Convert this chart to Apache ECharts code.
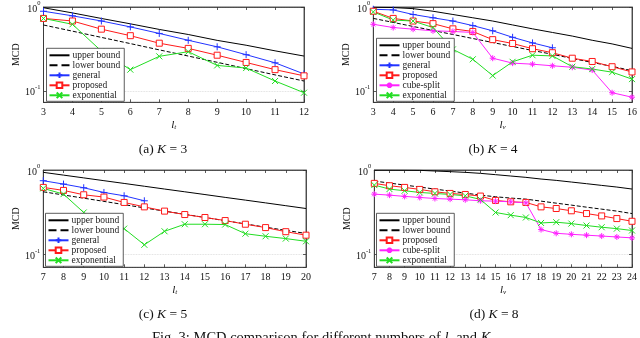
<!DOCTYPE html>
<html>
<head>
<meta charset="utf-8"/>
<title>MCD comparison</title>
<script src="https://cdn.jsdelivr.net/npm/echarts@6/dist/echarts.min.js"></script>
<style>
    html, body { margin: 0; padding: 0; background: #fff; }
    #main { width: 640px; height: 338px; }
</style>
</head>
<body>
<div id="main"></div>
<script>
// ---- data ----
// (a) K = 3
var xA = [3, 4, 5, 6, 7, 8, 9, 10, 11, 12];
var upperA = [0.98, 0.85, 0.73, 0.63, 0.54, 0.47, 0.40, 0.35, 0.30, 0.26];
var lowerA = [0.61, 0.515, 0.434, 0.366, 0.308, 0.26, 0.219, 0.184, 0.155, 0.131];
var generalA = [0.89, 0.785, 0.681, 0.579, 0.484, 0.401, 0.335, 0.27, 0.216, 0.159];
var proposedA = [0.731, 0.681, 0.544, 0.455, 0.37, 0.321, 0.266, 0.218, 0.179, 0.151];
var expA = [0.731, 0.622, 0.298, 0.179, 0.258, 0.293, 0.201, 0.187, 0.131, 0.095];

// (b) K = 4
var xB = [3, 4, 5, 6, 7, 8, 9, 10, 11, 12, 13, 14, 15, 16];
var upperB = [0.995, 0.985, 0.956, 0.89, 0.814, 0.744, 0.68, 0.611, 0.549, 0.497, 0.45, 0.401, 0.363, 0.321];
var lowerB = [0.731, 0.655, 0.586, 0.525, 0.47, 0.421, 0.377, 0.338, 0.303, 0.273, 0.243, 0.218, 0.196, 0.174];
var generalB = [0.94, 0.923, 0.814, 0.744, 0.68, 0.6, 0.52, 0.435, 0.373, 0.326];
var proposedB = [0.89, 0.731, 0.68, 0.633, 0.549, 0.511, 0.408, 0.367, 0.318, 0.285, 0.245, 0.224, 0.194, 0.168];
var cubeB = [0.622, 0.569, 0.544, 0.52, 0.511, 0.497, 0.245, 0.214, 0.208, 0.199, 0.191, 0.177, 0.095, 0.084];
var expB = [0.874, 0.699, 0.68, 0.569, 0.312, 0.238, 0.152, 0.222, 0.266, 0.261, 0.194, 0.182, 0.167, 0.138];

// (c) K = 5
var xC = [7, 8, 9, 10, 11, 12, 13, 14, 15, 16, 17, 18, 19, 20];
var upperC = [0.938, 0.87, 0.807, 0.748, 0.694, 0.643, 0.596, 0.553, 0.513, 0.475, 0.441, 0.409, 0.379, 0.351];
var lowerC = [0.553, 0.507, 0.465, 0.426, 0.39, 0.357, 0.327, 0.3, 0.275, 0.252, 0.231, 0.211, 0.194, 0.178];
var generalC = [0.747, 0.682, 0.617, 0.543, 0.496, 0.433];
var proposedC = [0.623, 0.574, 0.51, 0.479, 0.414, 0.367, 0.327, 0.298, 0.275, 0.253, 0.229, 0.209, 0.187, 0.17];
var expC = [0.607, 0.519, 0.315, 0.223, 0.203, 0.131, 0.189, 0.229, 0.229, 0.227, 0.177, 0.165, 0.155, 0.144];

// (d) K = 8
var xD = [7, 8, 9, 10, 11, 12, 13, 14, 15, 16, 17, 18, 19, 20, 21, 22, 23, 24];
var upperD = [0.998, 0.997, 0.995, 0.991, 0.973, 0.956, 0.938, 0.913, 0.881, 0.849, 0.819, 0.782, 0.754, 0.721, 0.689, 0.658, 0.629, 0.596];
var lowerD = [0.741, 0.701, 0.664, 0.629, 0.595, 0.564, 0.534, 0.505, 0.483, 0.466, 0.453, 0.429, 0.406, 0.385, 0.364, 0.345, 0.327, 0.306];
var proposedD = [0.695, 0.652, 0.623, 0.59, 0.553, 0.529, 0.514, 0.492, 0.437, 0.421, 0.414, 0.367, 0.351, 0.33, 0.306, 0.287, 0.267, 0.248];
var cubeD = [0.519, 0.505, 0.488, 0.474, 0.461, 0.453, 0.445, 0.433, 0.429, 0.421, 0.41, 0.198, 0.179, 0.174, 0.17, 0.166, 0.162, 0.158];
var expD = [0.664, 0.595, 0.569, 0.543, 0.529, 0.514, 0.496, 0.449, 0.315, 0.293, 0.275, 0.237, 0.242, 0.233, 0.221, 0.211, 0.203, 0.193];

var captions = ['(a) {i|K} = 3', '(b) {i|K} = 4', '(c) {i|K} = 5', '(d) {i|K} = 8'];
var xNames = ['{i|l}{sub|t}', '{i|l}{sub|v}', '{i|l}{sub|t}', '{i|l}{sub|v}'];

// ---- styling ----
var SERIF = '"Liberation Serif", "DejaVu Serif", serif';
var AX = '#333';

var look = {
    'upper bound': { color: '#000000', type: 'solid', symbol: 'circle', size: 0, hide: true },
    'lower bound': { color: '#000000', type: 'dashed', symbol: 'circle', size: 0, hide: true },
    'general': { color: '#2233ff', type: 'solid', symbol: 'path://M0,5L10,5M5,0L5,10', size: 7 },
    'proposed': { color: '#ff1a1a', type: 'solid', symbol: 'path://M0,0L10,0L10,10L0,10Z', size: 6, fill: '#fff' },
    'cube-split': { color: '#ff22ff', type: 'solid', symbol: 'path://M5,0L5,10M0,5L10,5M1.5,1.5L8.5,8.5M1.5,8.5L8.5,1.5', size: 6 },
    'exponential': { color: '#22dd22', type: 'solid', symbol: 'path://M0,0L10,10M0,10L10,0', size: 6 }
};

function pairs(xs, ys) {
    return ys.map(function (v, i) { return [xs[i], v]; });
}

var panels = [
    { left: 43.5, top: 5, width: 260.5, height: 97.3, x: xA, ymin: 0.073, lg: [46.5, 48.3],
      lines: [['upper bound', upperA], ['lower bound', lowerA], ['general', generalA], ['proposed', proposedA], ['exponential', expA]] },
    { left: 373.3, top: 5, width: 262, height: 97.3, x: xB, ymin: 0.073, lg: [376.5, 38.3],
      lines: [['upper bound', upperB], ['lower bound', lowerB], ['general', generalB], ['proposed', proposedB], ['cube-split', cubeB], ['exponential', expB]] },
    { left: 43.3, top: 170, width: 262.7, height: 97.3, x: xC, ymin: 0.071, lg: [45.5, 213.3],
      lines: [['upper bound', upperC], ['lower bound', lowerC], ['general', generalC], ['proposed', proposedC], ['exponential', expC]] },
    { left: 374.3, top: 170, width: 261, height: 97.3, x: xD, ymin: 0.071, lg: [376.5, 213.3],
      lines: [['upper bound', upperD], ['lower bound', lowerD], ['proposed', proposedD], ['cube-split', cubeD], ['exponential', expD]] }
];
var capPos = [[163, 149], [493, 149], [163, 314], [494, 314]];

function powLabel(v) {
    var e = Math.log(v) / Math.LN10;
    var r = Math.round(e);
    if (Math.abs(e - r) > 1e-6) return '';
    return '{b|10}{s|' + r + '}';
}

var grids = [], xAxes = [], yAxes = [], series = [], legends = [], graphics = [];

panels.forEach(function (p, k) {
    grids.push({ left: p.left, top: p.top, width: p.width, height: p.height, show: true,
        borderColor: AX, borderWidth: 0.8, backgroundColor: '#fff', containLabel: false });

    var xmin = p.x[0], xmax = p.x[p.x.length - 1];
    xAxes.push({
        gridIndex: k, type: 'value', position: 'bottom', min: xmin, max: xmax, interval: 1,
        axisLine: { show: true, lineStyle: { color: AX, width: 0.8 } },
        axisTick: { show: true, inside: true, length: 3, lineStyle: { color: AX, width: 0.8 } },
        axisLabel: { color: '#111', fontFamily: SERIF, fontSize: 10, margin: 5 },
        splitLine: { show: false },
        name: xNames[k], nameLocation: 'middle', nameGap: 16,
        nameTextStyle: { color: '#111', fontFamily: SERIF, fontSize: 11,
            rich: { i: { fontFamily: SERIF, fontStyle: 'italic', fontSize: 11, lineHeight: 11, verticalAlign: 'top', color: '#111' },
                    sub: { fontFamily: SERIF, fontStyle: 'italic', fontSize: 7, lineHeight: 7, padding: [5, 0, 0, 0], verticalAlign: 'bottom', color: '#111' } } }
    });
    xAxes.push({
        gridIndex: k, type: 'value', position: 'top', min: xmin, max: xmax, interval: 1,
        axisLine: { show: true, lineStyle: { color: AX, width: 0.8 } },
        axisTick: { show: true, inside: true, length: 3, lineStyle: { color: AX, width: 0.8 } },
        axisLabel: { show: false }, splitLine: { show: false }
    });
    yAxes.push({
        gridIndex: k, type: 'log', logBase: 10, position: 'left', min: p.ymin, max: 1,
        axisLine: { show: true, lineStyle: { color: AX, width: 0.8 } },
        axisTick: { show: true, inside: true, length: 3, lineStyle: { color: AX, width: 0.8 } },
        axisLabel: { formatter: powLabel, margin: 3, color: '#111',
            rich: { b: { fontFamily: SERIF, fontSize: 10, lineHeight: 14, verticalAlign: 'bottom', color: '#111' },
                    s: { fontFamily: SERIF, fontSize: 6.5, lineHeight: 6, verticalAlign: 'top', color: '#111' } } },
        splitLine: { show: true, lineStyle: { color: '#d6d6d6', type: 'dotted', width: 0.8 } },
        name: 'MCD', nameLocation: 'middle', nameGap: 21,
        nameTextStyle: { color: '#111', fontFamily: SERIF, fontSize: 10 }
    });
    yAxes.push({
        gridIndex: k, type: 'log', logBase: 10, position: 'right', min: p.ymin, max: 1,
        axisLine: { show: true, lineStyle: { color: AX, width: 0.8 } },
        axisTick: { show: true, inside: true, length: 3, lineStyle: { color: AX, width: 0.8 } },
        axisLabel: { show: false }, splitLine: { show: false }
    });

    var names = [];
    p.lines.forEach(function (ln) {
        var st = look[ln[0]];
        names.push(ln[0]);
        series.push({
            type: 'line', name: ln[0], xAxisIndex: 2 * k, yAxisIndex: 2 * k,
            data: pairs(p.x, ln[1]),
            symbol: st.symbol, symbolSize: st.size, showSymbol: !st.hide, showAllSymbol: true,
            lineStyle: { color: st.color, width: 1, type: st.type },
            itemStyle: { color: st.fill || st.color, borderColor: st.color, borderWidth: 1, opacity: st.hide ? 0 : 1 },
            emphasis: { disabled: true }, animation: false, z: 3
        });
    });

    legends.push({
        data: names, orient: 'vertical', left: p.lg[0], top: p.lg[1],
        backgroundColor: '#fff', borderColor: AX, borderWidth: 0.8, borderRadius: 0,
        padding: [2, 4, 1, 2], itemGap: 0, itemWidth: 20, itemHeight: 7,
        selectedMode: false, z: 10,
        textStyle: { fontFamily: SERIF, fontSize: 9.5, color: '#222', padding: [0, 0, 0, -2] }
    });

    graphics.push({
        type: 'text', x: capPos[k][0], y: capPos[k][1],
        style: { text: captions[k], fontFamily: SERIF, fontSize: 13.5, fill: '#111',
            align: 'center', verticalAlign: 'middle',
            rich: { i: { fontFamily: SERIF, fontStyle: 'italic', fontSize: 13.5, fill: '#111' } } }
    });
});

graphics.push({
    type: 'text', x: 325, y: 330,
    style: { text: 'Fig. 3: MCD comparison for different numbers of {i|l}{sub|v} and {i|K}{sub|v}.',
        fontFamily: SERIF, fontSize: 14.5, fill: '#111', align: 'center', verticalAlign: 'top',
        rich: { i: { fontFamily: SERIF, fontStyle: 'italic', fontSize: 14.5, fill: '#111' },
                sub: { fontFamily: SERIF, fontStyle: 'italic', fontSize: 9, fill: '#111', padding: [7, 0, 0, 0] } } }
});

var chart = echarts.init(document.getElementById('main'), null, { renderer: 'canvas' });
chart.setOption({
    backgroundColor: '#fff',
    animation: false,
    grid: grids,
    xAxis: xAxes,
    yAxis: yAxes,
    legend: legends,
    series: series,
    graphic: graphics
});
</script>
</body>
</html>
